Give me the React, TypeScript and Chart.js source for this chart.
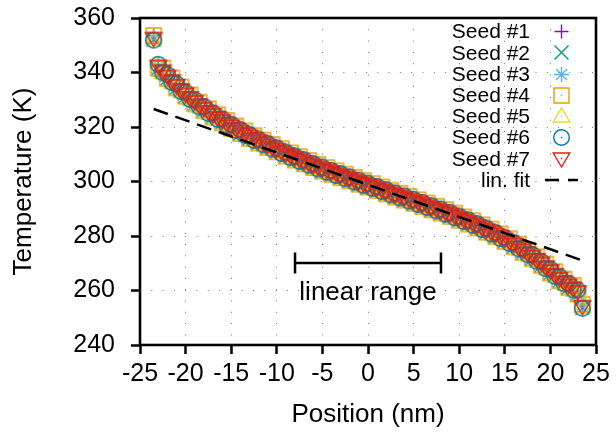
import React, { useEffect, useRef } from 'react';
import { Chart, registerables } from 'chart.js';
Chart.register(...registerables);

const positions = [
  -23.5, -23.0, -22.5, -22.0, -21.5, -21.0, -20.5, -20.0, -19.5, -19.0,
  -18.5, -18.0, -17.5, -17.0, -16.5, -16.0, -15.5, -15.0, -14.5, -14.0,
  -13.5, -13.0, -12.5, -12.0, -11.5, -11.0, -10.5, -10.0, -9.5, -9.0,
  -8.5, -8.0, -7.5, -7.0, -6.5, -6.0, -5.5, -5.0, -4.5, -4.0,
  -3.5, -3.0, -2.5, -2.0, -1.5, -1.0, -0.5, 0.0, 0.5, 1.0,
  1.5, 2.0, 2.5, 3.0, 3.5, 4.0, 4.5, 5.0, 5.5, 6.0,
  6.5, 7.0, 7.5, 8.0, 8.5, 9.0, 9.5, 10.0, 10.5, 11.0,
  11.5, 12.0, 12.5, 13.0, 13.5, 14.0, 14.5, 15.0, 15.5, 16.0,
  16.5, 17.0, 17.5, 18.0, 18.5, 19.0, 19.5, 20.0, 20.5, 21.0,
  21.5, 22.0, 22.5, 23.0, 23.5,
];

const seed1 = [
  353.5, 342.8, 341.5, 339.1, 337.9, 335.7, 334.6, 332.6, 331.7, 329.8,
  329.0, 327.3, 326.6, 325.0, 324.4, 322.8, 322.3, 320.8, 320.3, 318.9,
  318.5, 317.1, 316.7, 315.4, 315.1, 313.8, 313.5, 312.2, 311.9, 310.6,
  310.4, 309.2, 309.0, 307.8, 307.6, 306.4, 306.2, 305.1, 305.0, 303.9,
  303.8, 302.7, 302.6, 301.5, 301.4, 300.3, 300.2, 299.2, 299.1, 298.0,
  297.9, 296.8, 296.7, 295.6, 295.6, 294.5, 294.4, 293.3, 293.2, 292.1,
  292.0, 290.9, 290.8, 289.7, 289.6, 288.5, 288.3, 287.1, 286.9, 285.7,
  285.5, 284.3, 284.0, 282.7, 282.4, 281.1, 280.7, 279.3, 278.9, 277.4,
  276.9, 275.3, 274.7, 273.0, 272.3, 270.5, 269.6, 267.7, 266.8, 264.9,
  264.1, 262.4, 261.8, 260.0, 255.0,
];
const seed2 = [
  352.0, 341.5, 340.2, 337.8, 336.6, 334.4, 333.3, 331.3, 330.4, 328.5,
  327.7, 326.0, 325.3, 323.7, 323.1, 321.5, 321.0, 319.5, 319.0, 317.6,
  317.2, 315.8, 315.4, 314.1, 313.8, 312.5, 312.2, 310.9, 310.6, 309.3,
  309.1, 307.9, 307.7, 306.5, 306.3, 305.1, 304.9, 303.8, 303.7, 302.6,
  302.5, 301.4, 301.3, 300.2, 300.1, 299.0, 298.9, 297.9, 297.8, 296.7,
  296.6, 295.5, 295.4, 294.3, 294.3, 293.2, 293.1, 292.0, 291.9, 290.8,
  290.7, 289.6, 289.5, 288.4, 288.3, 287.2, 287.0, 285.8, 285.6, 284.4,
  284.2, 283.0, 282.7, 281.4, 281.1, 279.8, 279.4, 278.0, 277.6, 276.1,
  275.6, 274.0, 273.4, 271.7, 271.0, 269.2, 268.3, 266.4, 265.5, 263.6,
  262.8, 261.1, 260.5, 258.7, 253.6,
];
const seed3 = [
  353.0, 342.2, 341.2, 338.5, 337.6, 335.1, 334.3, 332.0, 331.4, 329.2,
  328.7, 326.7, 326.3, 324.4, 324.1, 322.2, 322.0, 320.2, 320.0, 318.3,
  318.2, 316.5, 316.4, 314.8, 314.8, 313.2, 313.2, 311.6, 311.6, 310.0,
  310.1, 308.6, 308.7, 307.2, 307.3, 305.8, 305.9, 304.5, 304.7, 303.3,
  303.5, 302.1, 302.3, 300.9, 301.1, 299.7, 299.9, 298.6, 298.8, 297.4,
  297.6, 296.2, 296.4, 295.0, 295.3, 293.9, 294.1, 292.7, 292.9, 291.5,
  291.7, 290.3, 290.5, 289.1, 289.3, 287.9, 288.0, 286.5, 286.6, 285.1,
  285.2, 283.7, 283.7, 282.1, 282.1, 280.5, 280.4, 278.7, 278.6, 276.8,
  276.6, 274.7, 274.4, 272.4, 272.0, 269.9, 269.3, 267.1, 266.5, 264.3,
  263.8, 261.8, 261.5, 259.4, 254.7,
];
const seed4 = [
  353.6, 341.5, 341.6, 337.8, 338.0, 334.4, 334.7, 331.3, 331.8, 328.5,
  329.1, 326.0, 326.7, 323.7, 324.5, 321.5, 322.4, 319.5, 320.4, 317.6,
  318.6, 315.8, 316.8, 314.1, 315.2, 312.5, 313.6, 310.9, 312.0, 309.3,
  310.5, 307.9, 309.1, 306.5, 307.7, 305.1, 306.3, 303.8, 305.1, 302.6,
  303.9, 301.4, 302.7, 300.2, 301.5, 299.0, 300.3, 297.9, 299.2, 296.7,
  298.0, 295.5, 296.8, 294.3, 295.7, 293.2, 294.5, 292.0, 293.3, 290.8,
  292.1, 289.6, 290.9, 288.4, 289.7, 287.2, 288.4, 285.8, 287.0, 284.4,
  285.6, 283.0, 284.1, 281.4, 282.5, 279.8, 280.8, 278.0, 279.0, 276.1,
  277.0, 274.0, 274.8, 271.7, 272.4, 269.2, 269.7, 266.4, 266.9, 263.6,
  264.2, 261.1, 261.9, 258.7, 254.9,
];
const seed5 = [
  352.0, 342.7, 340.0, 339.0, 336.4, 335.6, 333.1, 332.5, 330.2, 329.7,
  327.5, 327.2, 325.1, 324.9, 322.9, 322.7, 320.8, 320.7, 318.8, 318.8,
  317.0, 317.0, 315.2, 315.3, 313.6, 313.7, 312.0, 312.1, 310.4, 310.5,
  308.9, 309.1, 307.5, 307.7, 306.1, 306.3, 304.7, 305.0, 303.5, 303.8,
  302.3, 302.6, 301.1, 301.4, 299.9, 300.2, 298.7, 299.1, 297.6, 297.9,
  296.4, 296.7, 295.2, 295.5, 294.1, 294.4, 292.9, 293.2, 291.7, 292.0,
  290.5, 290.8, 289.3, 289.6, 288.1, 288.4, 286.8, 287.0, 285.4, 285.6,
  284.0, 284.2, 282.5, 282.6, 280.9, 281.0, 279.2, 279.2, 277.4, 277.3,
  275.4, 275.2, 273.2, 272.9, 270.8, 270.4, 268.1, 267.6, 265.3, 264.8,
  262.6, 262.3, 260.3, 259.9, 253.8,
];
const seed6 = [
  351.9, 343.0, 339.9, 339.3, 336.3, 335.9, 333.0, 332.8, 330.1, 330.0,
  327.4, 327.5, 325.0, 325.2, 322.8, 323.0, 320.7, 321.0, 318.7, 319.1,
  316.9, 317.3, 315.1, 315.6, 313.5, 314.0, 311.9, 312.4, 310.3, 310.8,
  308.8, 309.4, 307.4, 308.0, 306.0, 306.6, 304.6, 305.3, 303.4, 304.1,
  302.2, 302.9, 301.0, 301.7, 299.8, 300.5, 298.6, 299.4, 297.5, 298.2,
  296.3, 297.0, 295.1, 295.8, 294.0, 294.7, 292.8, 293.5, 291.6, 292.3,
  290.4, 291.1, 289.2, 289.9, 288.0, 288.7, 286.7, 287.3, 285.3, 285.9,
  283.9, 284.5, 282.4, 282.9, 280.8, 281.3, 279.1, 279.5, 277.3, 277.6,
  275.3, 275.5, 273.1, 273.2, 270.7, 270.7, 268.0, 267.9, 265.2, 265.1,
  262.5, 262.6, 260.2, 260.2, 253.5,
];
const seed7 = [
  352.6, 342.4, 340.6, 338.7, 337.0, 335.3, 333.7, 332.2, 330.8, 329.4,
  328.1, 326.9, 325.7, 324.6, 323.5, 322.4, 321.4, 320.4, 319.4, 318.5,
  317.6, 316.7, 315.8, 315.0, 314.2, 313.4, 312.6, 311.8, 311.0, 310.2,
  309.5, 308.8, 308.1, 307.4, 306.7, 306.0, 305.3, 304.7, 304.1, 303.5,
  302.9, 302.3, 301.7, 301.1, 300.5, 299.9, 299.3, 298.8, 298.2, 297.6,
  297.0, 296.4, 295.8, 295.2, 294.7, 294.1, 293.5, 292.9, 292.3, 291.7,
  291.1, 290.5, 289.9, 289.3, 288.7, 288.1, 287.4, 286.7, 286.0, 285.3,
  284.6, 283.9, 283.1, 282.3, 281.5, 280.7, 279.8, 278.9, 278.0, 277.0,
  276.0, 274.9, 273.8, 272.6, 271.4, 270.1, 268.7, 267.3, 265.9, 264.5,
  263.2, 262.0, 260.9, 259.6, 254.2,
];

const seedSeries = [seed1, seed2, seed3, seed4, seed5, seed6, seed7];
const seedNames = ['Seed #1', 'Seed #2', 'Seed #3', 'Seed #4', 'Seed #5', 'Seed #6', 'Seed #7'];
const seedColors = ['#9400d3', '#009e73', '#56b4e9', '#e69f00', '#e8d830', '#0072b2', '#e51e10'];
const seedMarkers = ['plus', 'cross', 'star', 'square', 'triUp', 'circle', 'triDown'];

const fitLabel = 'lin. fit';
const fitX = [-23.5, 23.5];
const fitT = [326.6, 271.0];

const rangeLabel = 'linear range';
const rangeX = [-8, 8];
const rangeT = 270.1;
const rangeCapLow = 266.25;
const rangeCapHigh = 273.95;
const rangeLabelAt = { x: 0, y: 256.4 };

const xTicks = [-25, -20, -15, -10, -5, 0, 5, 10, 15, 20, 25];
const yTicks = [240, 260, 280, 300, 320, 340, 360];
const xTitle = 'Position (nm)';
const yTitle = 'Temperature (K)';

const FONT = "'Liberation Sans', Arial, Helvetica, sans-serif";

function makeMarker(kind: string, color: string): HTMLCanvasElement {
  const cv = document.createElement('canvas');
  cv.width = 21;
  cv.height = 21;
  const g = cv.getContext('2d') as CanvasRenderingContext2D;
  const c = 10.5;
  g.strokeStyle = color;
  g.fillStyle = color;
  g.lineWidth = 1.4;
  g.beginPath();
  let dot = false;
  switch (kind) {
    case 'plus':
      g.moveTo(c - 7, c); g.lineTo(c + 7, c);
      g.moveTo(c, c - 7); g.lineTo(c, c + 7);
      break;
    case 'cross':
      g.moveTo(c - 7, c - 7); g.lineTo(c + 7, c + 7);
      g.moveTo(c - 7, c + 7); g.lineTo(c + 7, c - 7);
      break;
    case 'star':
      g.moveTo(c - 7.5, c); g.lineTo(c + 7.5, c);
      g.moveTo(c, c - 7.5); g.lineTo(c, c + 7.5);
      g.moveTo(c - 5.5, c - 5.5); g.lineTo(c + 5.5, c + 5.5);
      g.moveTo(c - 5.5, c + 5.5); g.lineTo(c + 5.5, c - 5.5);
      break;
    case 'square':
      g.rect(c - 7.5, c - 7.5, 15, 15);
      dot = true;
      break;
    case 'triUp':
      g.moveTo(c, c - 8.5); g.lineTo(c + 8.3, c + 5.5); g.lineTo(c - 8.3, c + 5.5); g.closePath();
      dot = true;
      break;
    case 'circle':
      g.arc(c, c, 7.8, 0, Math.PI * 2);
      dot = true;
      break;
    case 'triDown':
      g.moveTo(c, c + 8.5); g.lineTo(c + 8.3, c - 5.5); g.lineTo(c - 8.3, c - 5.5); g.closePath();
      dot = true;
      break;
  }
  g.stroke();
  if (dot) g.fillRect(9.75, 9.75, 1.5, 1.5);
  return cv;
}

export default function App() {
  const ref = useRef<HTMLCanvasElement | null>(null);

  useEffect(() => {
    if (!ref.current) return;
    Chart.defaults.font.family = FONT;
    Chart.defaults.color = '#000';

    const markers = seedMarkers.map((m, i) => makeMarker(m, seedColors[i]));

    const seedDatasets = seedSeries.map((vals, i) => ({
      type: 'scatter' as const,
      label: seedNames[i],
      data: positions.map((x, j) => ({ x, y: vals[j] })),
      pointStyle: markers[i],
      pointRadius: 8,
      borderColor: seedColors[i],
      backgroundColor: seedColors[i],
      showLine: false,
      order: 10 - i,
    }));

    const lineStyle = {
      type: 'scatter' as const,
      showLine: true,
      borderColor: '#000',
      borderWidth: 2.5,
      pointRadius: 0,
      fill: false,
    };

    const datasets: any[] = [
      ...seedDatasets,
      {
        ...lineStyle,
        label: fitLabel,
        data: fitX.map((x, j) => ({ x, y: fitT[j] })),
        borderDash: [15, 8],
        order: 1,
      },
      {
        ...lineStyle,
        label: 'range bar',
        data: rangeX.map((x) => ({ x, y: rangeT })),
        order: 0,
      },
      {
        ...lineStyle,
        label: 'range cap left',
        data: [{ x: rangeX[0], y: rangeCapLow }, { x: rangeX[0], y: rangeCapHigh }],
        order: 0,
      },
      {
        ...lineStyle,
        label: 'range cap right',
        data: [{ x: rangeX[1], y: rangeCapLow }, { x: rangeX[1], y: rangeCapHigh }],
        order: 0,
      },
    ];

    const decor = {
      id: 'decor',
      afterDraw(chart: any) {
        const { ctx, chartArea } = chart;
        const xs = chart.scales.x;
        const ys = chart.scales.y;
        ctx.save();
        ctx.font = `26px ${FONT}`;
        ctx.fillStyle = '#000';
        ctx.textAlign = 'center';
        ctx.textBaseline = 'alphabetic';
        ctx.fillText(rangeLabel, xs.getPixelForValue(rangeLabelAt.x), ys.getPixelForValue(rangeLabelAt.y));

        ctx.strokeStyle = '#000';
        ctx.lineWidth = 2.6;
        ctx.setLineDash([]);
        ctx.strokeRect(chartArea.left, chartArea.top, chartArea.right - chartArea.left, chartArea.bottom - chartArea.top);

        ctx.font = `21px ${FONT}`;
        ctx.textAlign = 'right';
        ctx.textBaseline = 'middle';
        const rowH = 21.2;
        const y0 = 31.7;
        const textRight = 530;
        const symX = 561.5;
        seedNames.forEach((name, i) => {
          const y = y0 + i * rowH;
          ctx.fillStyle = '#000';
          ctx.fillText(name, textRight, y + 1);
          ctx.drawImage(markers[i], Math.round(symX - 10.5), Math.round(y - 10.5));
        });
        const yf = y0 + 7 * rowH;
        ctx.fillText(fitLabel, textRight, yf + 1);
        ctx.beginPath();
        ctx.lineWidth = 2.5;
        ctx.setLineDash([14, 9]);
        ctx.moveTo(545, yf);
        ctx.lineTo(578, yf);
        ctx.stroke();
        ctx.restore();
      },
    };

    const chart = new Chart(ref.current, {
      type: 'scatter',
      data: { datasets },
      options: {
        animation: false,
        responsive: false,
        events: [],
        layout: { padding: { top: 18, right: 20, bottom: 0, left: 0 } },
        plugins: { legend: { display: false }, tooltip: { enabled: false } },
        scales: {
          x: {
            type: 'linear',
            min: -25,
            max: 25,
            afterBuildTicks: (axis: any) => {
              axis.ticks = xTicks.map((v) => ({ value: v }));
            },
            afterFit: (axis: any) => {
              axis.height = 87;
              axis.paddingLeft = 0;
              axis.paddingRight = 0;
            },
            ticks: {
              font: { size: 25 },
              color: '#000',
              padding: 5,
              maxRotation: 0,
              autoSkip: false,
              callback: (v: any) => String(v),
            },
            grid: {
              color: '#777',
              lineWidth: 1,
              tickLength: 9,
              tickColor: '#000',
              tickWidth: 2.5,
              tickBorderDash: [],
            },
            border: { display: false, dash: [1, 10.3] },
            title: {
              display: true,
              text: xTitle,
              font: { size: 26 },
              color: '#000',
              padding: { top: 0, bottom: 2 },
            },
          },
          y: {
            type: 'linear',
            min: 240,
            max: 360,
            afterBuildTicks: (axis: any) => {
              axis.ticks = yTicks.map((v) => ({ value: v }));
            },
            afterFit: (axis: any) => {
              axis.width = 140;
              axis.paddingTop = 0;
              axis.paddingBottom = 0;
            },
            ticks: {
              font: { size: 25 },
              color: '#000',
              padding: 16,
              autoSkip: false,
              callback: (v: any) => String(v),
            },
            grid: {
              color: '#777',
              lineWidth: 1,
              tickLength: 9,
              tickColor: '#000',
              tickWidth: 2.5,
              tickBorderDash: [],
            },
            border: { display: false, dash: [1, 10.3] },
            title: {
              display: true,
              text: yTitle,
              font: { size: 26 },
              color: '#000',
              padding: { top: 8, bottom: 0 },
            },
          },
        },
      },
      plugins: [decor],
    } as any);

    return () => chart.destroy();
  }, []);

  return (
    <div style={{ position: 'absolute', left: 0, top: 0, width: 616, height: 432, background: '#fff' }}>
      <canvas ref={ref} width={616} height={432} style={{ display: 'block' }} />
    </div>
  );
}
